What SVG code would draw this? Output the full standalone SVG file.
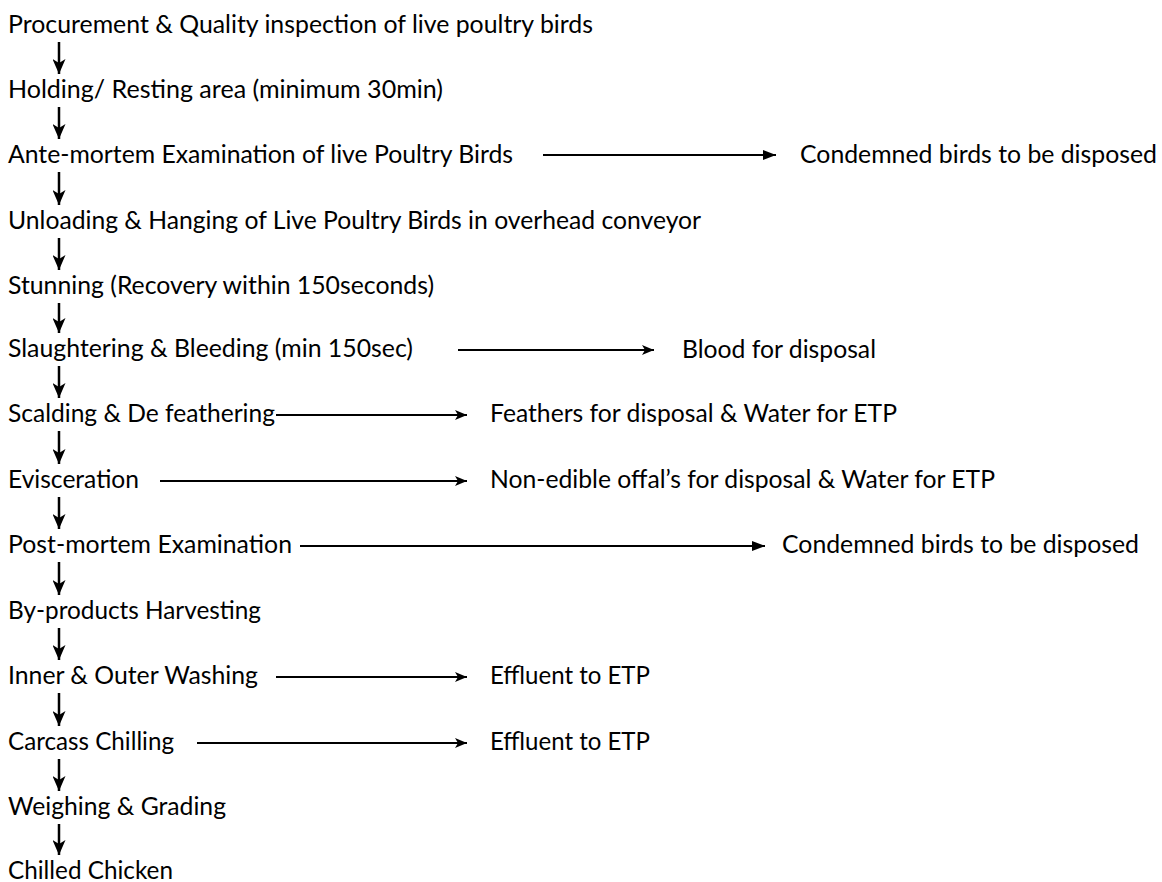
<svg xmlns="http://www.w3.org/2000/svg" width="1162" height="882" viewBox="0 0 1162 882">
  <style>
    text { font-family: "Lato", "Liberation Sans", sans-serif; font-size: 24.5px; fill: #000; }
    .flow line { stroke: #000; stroke-width: 2; fill: none; }
    .flow .down { stroke-width: 2.5; marker-end: url(#headDown); }
    .flow .side { marker-end: url(#headNotch); }
    .flow .sideSolid { marker-end: url(#headSolid); }
  </style>
  <defs>
    <marker id="headDown" viewBox="0 0 15 13" refX="15" refY="6.5" markerWidth="15" markerHeight="13" markerUnits="userSpaceOnUse" orient="auto">
      <path d="M0,0 L15,6.5 L0,13 L4,6.5 z" fill="#000"/>
    </marker>
    <marker id="headNotch" viewBox="0 0 12 10" refX="12" refY="5" markerWidth="12" markerHeight="10" markerUnits="userSpaceOnUse" orient="auto">
      <path d="M0,0 L12,5 L0,10 L3,5 z" fill="#000"/>
    </marker>
    <marker id="headSolid" viewBox="0 0 13 10" refX="13" refY="5" markerWidth="13" markerHeight="10" markerUnits="userSpaceOnUse" orient="auto">
      <path d="M0,0 L13,5 L0,10 z" fill="#000"/>
    </marker>
  </defs>

  <!-- process steps -->
  <g id="step-procurement"><text x="8" y="33" textLength="585" lengthAdjust="spacingAndGlyphs">Procurement &amp; Quality inspection of live poultry birds</text></g>
  <g id="step-holding"><text x="8" y="98" textLength="435" lengthAdjust="spacingAndGlyphs">Holding/ Resting area (minimum 30min)</text></g>
  <g id="step-antemortem"><text x="8" y="163" textLength="505" lengthAdjust="spacingAndGlyphs">Ante-mortem Examination of live Poultry Birds</text></g>
  <g id="step-unloading"><text x="8" y="229" textLength="693" lengthAdjust="spacingAndGlyphs">Unloading &amp; Hanging of Live Poultry Birds in overhead conveyor</text></g>
  <g id="step-stunning"><text x="8" y="294" textLength="426" lengthAdjust="spacingAndGlyphs">Stunning (Recovery within 150seconds)</text></g>
  <g id="step-slaughtering"><text x="8" y="357" textLength="405" lengthAdjust="spacingAndGlyphs">Slaughtering &amp; Bleeding (min 150sec)</text></g>
  <g id="step-scalding"><text x="8" y="422" textLength="267" lengthAdjust="spacingAndGlyphs">Scalding &amp; De feathering</text></g>
  <g id="step-evisceration"><text x="8" y="488" textLength="131" lengthAdjust="spacingAndGlyphs">Evisceration</text></g>
  <g id="step-postmortem"><text x="8" y="553" textLength="284" lengthAdjust="spacingAndGlyphs">Post-mortem Examination</text></g>
  <g id="step-byproducts"><text x="8" y="619" textLength="253" lengthAdjust="spacingAndGlyphs">By-products Harvesting</text></g>
  <g id="step-washing"><text x="8" y="684" textLength="250" lengthAdjust="spacingAndGlyphs">Inner &amp; Outer Washing</text></g>
  <g id="step-chilling"><text x="8" y="750" textLength="166" lengthAdjust="spacingAndGlyphs">Carcass Chilling</text></g>
  <g id="step-weighing"><text x="8" y="815" textLength="218" lengthAdjust="spacingAndGlyphs">Weighing &amp; Grading</text></g>
  <g id="step-chilled"><text x="8" y="879" textLength="165" lengthAdjust="spacingAndGlyphs">Chilled Chicken</text></g>

  <!-- side outputs -->
  <g id="out-condemned-ante"><text x="800" y="163" textLength="357" lengthAdjust="spacingAndGlyphs">Condemned birds to be disposed</text></g>
  <g id="out-blood"><text x="682" y="358" textLength="194" lengthAdjust="spacingAndGlyphs">Blood for disposal</text></g>
  <g id="out-feathers"><text x="490" y="422" textLength="407" lengthAdjust="spacingAndGlyphs">Feathers for disposal &amp; Water for ETP</text></g>
  <g id="out-offal"><text x="490" y="488" textLength="505" lengthAdjust="spacingAndGlyphs">Non-edible offal’s for disposal &amp; Water for ETP</text></g>
  <g id="out-condemned-post"><text x="782" y="553" textLength="357" lengthAdjust="spacingAndGlyphs">Condemned birds to be disposed</text></g>
  <g id="out-effluent-wash"><text x="490" y="684" textLength="160" lengthAdjust="spacingAndGlyphs">Effluent to ETP</text></g>
  <g id="out-effluent-chill"><text x="490" y="750" textLength="160" lengthAdjust="spacingAndGlyphs">Effluent to ETP</text></g>

  <!-- connectors -->
  <g id="connectors" class="flow">
    <line class="down" x1="59" y1="42" x2="59" y2="74"/>
    <line class="down" x1="59" y1="107" x2="59" y2="139"/>
    <line class="down" x1="59" y1="172" x2="59" y2="205"/>
    <line class="down" x1="59" y1="238" x2="59" y2="270"/>
    <line class="down" x1="59" y1="303" x2="59" y2="333"/>
    <line class="down" x1="59" y1="366" x2="59" y2="398"/>
    <line class="down" x1="59" y1="431" x2="59" y2="464"/>
    <line class="down" x1="59" y1="497" x2="59" y2="529"/>
    <line class="down" x1="59" y1="562" x2="59" y2="595"/>
    <line class="down" x1="59" y1="628" x2="59" y2="660"/>
    <line class="down" x1="59" y1="693" x2="59" y2="726"/>
    <line class="down" x1="59" y1="759" x2="59" y2="791"/>
    <line class="down" x1="59" y1="824" x2="59" y2="855"/>

    <line class="sideSolid" x1="543" y1="155" x2="776" y2="155"/>
    <line class="side" x1="458" y1="350" x2="654" y2="350"/>
    <line class="side" x1="276" y1="415" x2="467" y2="415"/>
    <line class="side" x1="160" y1="481" x2="467" y2="481"/>
    <line class="sideSolid" x1="300" y1="546" x2="765" y2="546"/>
    <line class="side" x1="276" y1="677" x2="467" y2="677"/>
    <line class="side" x1="197" y1="743" x2="467" y2="743"/>
  </g>
</svg>
